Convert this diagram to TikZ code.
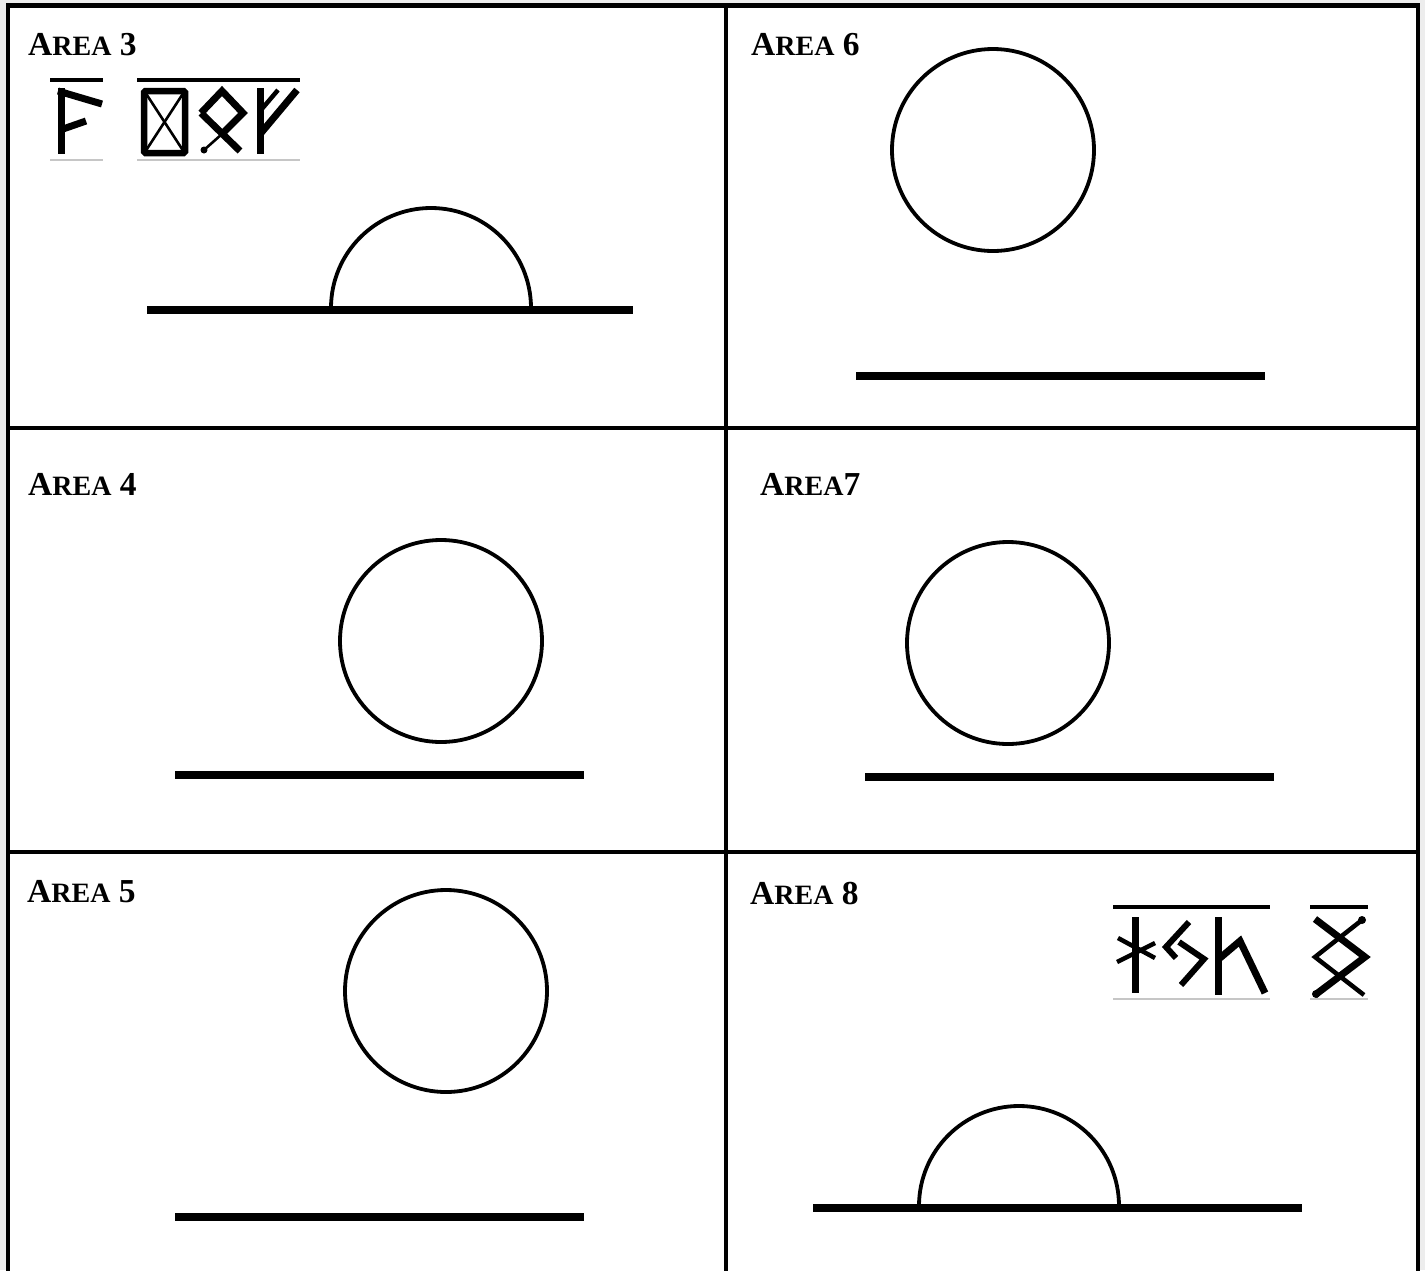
\documentclass[tikz,border=0pt]{standalone}
\usepackage{fontspec}
\setmainfont{Liberation Serif}
\newcommand{\AreaLbl}[2]{{\fontsize{33.5}{33.5}\selectfont A}{\fontsize{28}{28}\selectfont REA}{\fontsize{33.5}{33.5}\selectfont #1#2}}
\begin{document}
\begin{tikzpicture}[x=1pt,y=-1pt,
  frame/.style={line width=4.5pt, line cap=rect},
  ground/.style={line width=7.5pt},
  ball/.style={line width=3.8pt},
  lbl/.style={anchor=base west, inner sep=0pt, font=\bfseries},
  runethick/.style={line width=7pt, line cap=butt, line join=miter},
  runethin/.style={line width=2.6pt, line cap=butt},
  runebar/.style={line width=3.4pt},
  runeline/.style={line width=1.2pt, draw=gray!45}]
\useasboundingbox (0,0) rectangle (1425,1270);
\fill[gray!14] (0,0) rectangle (1425,1270);
\fill[white] (8,5) rectangle (1418,1270);
% frame
\draw[frame] (8,1272) -- (8,5.5) -- (1418,5.5) -- (1418,1272);
\draw[frame] (726,5.5) -- (726,1272);
\draw[frame] (8,428) -- (1418,428);
\draw[frame] (8,852) -- (1418,852);
% labels
\node[lbl] (l3) at (28,55) {\AreaLbl{\ }{3}};
\node[lbl] (l6) at (751,55) {\AreaLbl{\ }{6}};
\node[lbl] (l4) at (28,495) {\AreaLbl{\ }{4}};
\node[lbl] (l7) at (760,495) {\AreaLbl{}{7}};
\node[lbl] (l5) at (27,902) {\AreaLbl{\ }{5}};
\node[lbl] (l8) at (750,904) {\AreaLbl{\ }{8}};
% Area 3
\draw[ball] (331,308) arc[start angle=180, end angle=360, radius=100];
\draw[ground] (147,310) -- (633,310);
% Area 6
\draw[ball] (993,150) circle[radius=101];
\draw[ground] (856,376) -- (1265,376);
% Area 4
\draw[ball] (441,641) circle[radius=101];
\draw[ground] (175,775) -- (584,775);
% Area 7
\draw[ball] (1008,643) circle[radius=101];
\draw[ground] (865,777) -- (1274,777);
% Area 5
\draw[ball] (446,991) circle[radius=101];
\draw[ground] (175,1217) -- (584,1217);
% Area 8
\draw[ball] (919,1206) arc[start angle=180, end angle=360, radius=100];
\draw[ground] (813,1208) -- (1302,1208);
% runes area 3
\draw[runebar] (50,80) -- (103,80);
\draw[runebar] (137,80) -- (300,80);
\draw[runeline] (50,160) -- (103,160);
\draw[runeline] (137,160) -- (300,160);
\draw[runethick] (61,88) -- (61,154);
\draw[runethick] (58,91) -- (102,104);
\draw[runethick] (63,129) -- (86,121);
\draw[line width=6.5pt, rounded corners=1.5pt] (144,91) rectangle (185,153);
\draw[runethin] (145,92) -- (184,152);
\draw[runethin] (184,92) -- (145,152);
\draw[runethick] (201,113) -- (222,91) -- (243,113) -- (222,134);
\draw[runethick] (201,113) -- (240,151);
\draw[runethin] (222,134) -- (204,150);
\fill (204,150) circle[radius=3.5];
\draw[runethick] (260,88) -- (260,154);
\draw[runethick] (261,133) -- (297,90);
\draw[line width=4.5pt] (261,110) -- (278,90);
% runes area 8
\draw[runebar] (1113,907) -- (1270,907);
\draw[runebar] (1310,907) -- (1368,907);
\draw[runeline] (1113,999) -- (1270,999);
\draw[runeline] (1310,999) -- (1368,999);
\draw[runethick] (1135,917) -- (1135,993);
\draw[line width=4.5pt] (1118,938) -- (1155,958);
\draw[line width=4.5pt] (1117,962) -- (1155,943);
\draw[line width=6pt] (1189,922) -- (1166,947) -- (1176,958);
\draw[line width=6pt] (1179,942) -- (1204,959) -- (1181,985);
\draw[runethick] (1218,917) -- (1218,995);
\draw[runethick] (1220,958) -- (1240,941) -- (1265,993);
\draw[runethick] (1315,919) -- (1365,957) -- (1315,995);
\draw[line width=4.5pt] (1362,920) -- (1315,957) -- (1364,995);
\fill (1362,920) circle[radius=4];
\fill (1316,994) circle[radius=4];
\end{tikzpicture}
\end{document}
